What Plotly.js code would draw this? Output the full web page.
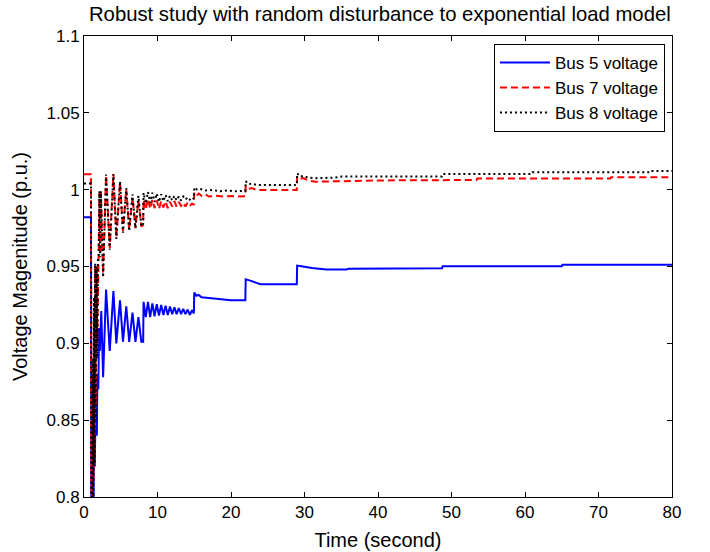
<!DOCTYPE html>
<html>
<head>
<meta charset="utf-8">
<script src="https://cdn.plot.ly/plotly-3.0.1.min.js"></script>
<style>html,body{margin:0;padding:0;background:#fff;}#chart{width:710px;height:552px;}</style>
</head>
<body>
<div id="chart"></div>
<script>
// Bus 5 voltage
var t5 = [0, 0.95, 1.0, 1.08, 1.15, 1.22, 1.3, 1.38, 1.45, 1.55, 1.75, 1.82, 1.95, 2.05, 2.15, 2.35, 2.6, 3.0, 3.5, 4.0, 4.4, 4.9, 5.3, 5.75, 6.15, 6.6, 7.0, 7.4, 7.8, 8.05,
  8.1, 8.4, 8.7, 9.0, 9.3, 9.6, 9.9, 10.2, 10.5, 10.8, 11.1, 11.4, 11.7, 12.0, 12.3, 12.6, 12.9, 13.2, 13.5, 13.8, 14.1, 14.4, 14.7, 14.95,
  15.0, 15.3, 15.6, 16.0, 17.0, 18.0, 20.0, 21.95, 22.0, 22.5, 23.2, 24.0, 28.95, 29.0, 29.8, 31.0, 33.0, 35.7, 36.0, 48.7, 48.8, 65.0, 65.1, 80];
var v5 = [0.982, 0.982, 0.78, 0.86, 0.79, 0.88, 0.80, 0.87, 0.82, 0.845, 0.84, 0.88, 0.87, 0.91, 0.895, 0.921, 0.878, 0.935, 0.895, 0.934, 0.900, 0.928, 0.901, 0.924, 0.901, 0.920, 0.901, 0.917, 0.901, 0.901,
  0.927, 0.917, 0.927, 0.917, 0.926, 0.9175, 0.9255, 0.918, 0.925, 0.9185, 0.9245, 0.9185, 0.924, 0.919, 0.9235, 0.919, 0.923, 0.919, 0.9225, 0.919, 0.922, 0.9185, 0.9215, 0.9195,
  0.933, 0.931, 0.9315, 0.930, 0.9295, 0.929, 0.928, 0.928, 0.9417, 0.941, 0.940, 0.9385, 0.9385, 0.9506, 0.950, 0.949, 0.948, 0.948, 0.9485, 0.9489, 0.9502, 0.9502, 0.9512, 0.9512];

// Bus 7 voltage
var t7 = [0, 0.95, 1.0, 1.05, 1.12, 1.2, 1.28, 1.36, 1.44, 1.52, 1.6, 1.7, 1.8, 1.9, 2.0, 2.1, 2.2, 2.3, 2.6, 3.0, 3.5, 4.0, 4.4, 4.9, 5.3, 5.75, 6.15, 6.6, 7.0, 7.4, 7.8, 8.05,
  8.1, 8.4, 8.7, 9.0, 9.3, 9.6, 9.9, 10.2, 10.5, 10.8, 11.1, 11.4, 11.7, 12.0, 12.3, 12.6, 12.9, 13.2, 13.5, 13.8, 14.1, 14.4, 14.7, 14.95,
  15.0, 15.3, 15.6, 16.0, 16.5, 17.0, 18.0, 19.0, 20.0, 21.0, 21.95, 22.0, 22.4, 22.8, 23.5, 28.95, 29.0, 29.4, 29.8, 30.5, 31.5, 35.0, 40.0, 53.4, 53.5, 71.6, 71.7, 80];
var v7 = [1.01, 1.01, 0.78, 0.84, 0.80, 0.88, 0.81, 0.92, 0.83, 0.95, 0.86, 0.95, 0.90, 0.955, 0.96, 0.998, 0.958, 0.998, 0.945, 1.0095, 0.962, 1.010, 0.969, 1.0045, 0.973, 1.000, 0.974, 0.995, 0.975, 0.993, 0.976, 0.977,
  0.9935, 0.987, 0.994, 0.9875, 0.9935, 0.988, 0.993, 0.9875, 0.9925, 0.9885, 0.9925, 0.988, 0.992, 0.989, 0.9925, 0.989, 0.992, 0.9895, 0.9915, 0.989, 0.9915, 0.9895, 0.991, 0.990,
  0.998, 0.996, 0.9975, 0.996, 0.997, 0.9955, 0.996, 0.9955, 0.9958, 0.9955, 0.9958, 1.0025, 1.0005, 1.001, 0.9998, 0.9998, 1.0085, 1.007, 1.0075, 1.006, 1.0052, 1.0055, 1.006, 1.0063, 1.0072, 1.0072, 1.008, 1.008];

// Bus 8 voltage
var t8 = [0, 0.95, 1.0, 1.05, 1.12, 1.2, 1.28, 1.36, 1.44, 1.52, 1.6, 1.7, 1.8, 1.9, 2.0, 2.1, 2.2, 2.3, 2.6, 3.0, 3.5, 4.0, 4.4, 4.9, 5.3, 5.75, 6.15, 6.6, 7.0, 7.4, 7.8, 8.05,
  8.1, 8.4, 8.7, 9.0, 9.3, 9.6, 9.9, 10.2, 10.5, 10.8, 11.1, 11.4, 11.7, 12.0, 12.3, 12.6, 12.9, 13.2, 13.5, 13.8, 14.1, 14.4, 14.7, 14.95,
  15.0, 15.4, 15.8, 16.5, 17.5, 18.5, 19.5, 20.5, 21.95, 22.0, 22.4, 22.8, 23.5, 28.95, 29.0, 29.4, 29.8, 30.5, 31.5, 34.0, 35.0, 48.7, 48.8, 60.9, 61.0, 77.0, 77.1, 80];
var v8 = [1.004, 1.004, 0.78, 0.85, 0.79, 0.89, 0.80, 0.93, 0.82, 0.952, 0.85, 0.95, 0.89, 0.956, 0.957, 0.999, 0.956, 0.999, 0.943, 1.0098, 0.961, 1.0102, 0.968, 1.0055, 0.972, 1.001, 0.973, 0.997, 0.975, 0.996, 0.976, 0.978,
  0.998, 0.991, 0.9985, 0.9915, 0.998, 0.992, 0.9975, 0.992, 0.997, 0.9925, 0.9965, 0.9925, 0.996, 0.993, 0.996, 0.993, 0.9955, 0.993, 0.9955, 0.9935, 0.995, 0.9935, 0.995, 0.994,
  1.0015, 1.0, 1.0005, 0.9995, 0.9998, 0.999, 0.9995, 0.999, 0.9992, 1.0055, 1.0035, 1.004, 1.003, 1.003, 1.0107, 1.0085, 1.009, 1.0078, 1.0075, 1.0078, 1.0085, 1.0085, 1.0102, 1.0102, 1.0113, 1.0113, 1.0122, 1.0122];

var names = ['Bus 5 voltage', 'Bus 7 voltage', 'Bus 8 voltage'];
var xTicks = [0, 10, 20, 30, 40, 50, 60, 70, 80];
var yTicks = [0.8, 0.85, 0.9, 0.95, 1, 1.05, 1.1];
var yTickText = ['0.8', '0.85', '0.9', '0.95', '1', '1.05', '1.1'];

var font = 'Liberation Sans, Arial, sans-serif';
var data = [
  {x: t5, y: v5, name: names[0], type: 'scatter', mode: 'lines', line: {color: '#0000ff', width: 2}},
  {x: t7, y: v7, name: names[1], type: 'scatter', mode: 'lines', line: {color: '#ff0000', width: 2, dash: '7px,4px'}},
  {x: t8, y: v8, name: names[2], type: 'scatter', mode: 'lines', line: {color: '#000000', width: 2, dash: '2px,3px'}}
];
var axisCommon = {
  showline: true, linecolor: '#000', linewidth: 1, mirror: 'ticks',
  ticks: 'inside', ticklen: 5, tickcolor: '#000', tickwidth: 1,
  showgrid: false, zeroline: false, automargin: false,
  tickfont: {family: font, size: 17, color: '#000'}
};
var layout = {
  width: 710, height: 552,
  margin: {l: 84, r: 38, t: 36, b: 55},
  paper_bgcolor: '#fff', plot_bgcolor: '#fff',
  showlegend: true,
  title: {text: 'Robust study with random disturbance to exponential load model',
          font: {family: font, size: 20.3, color: '#000'}, x: 0.535, xanchor: 'center', y: 0.974, yanchor: 'middle'},
  xaxis: Object.assign({}, axisCommon, {
    range: [0, 80], tickvals: xTicks, ticktext: xTicks.map(String),
    title: {text: 'Time (second)', font: {family: font, size: 20, color: '#000'}, standoff: 11}
  }),
  yaxis: Object.assign({}, axisCommon, {
    range: [0.8, 1.1], tickvals: yTicks, ticktext: yTickText,
    title: {text: 'Voltage Magenitude (p.u.)', font: {family: font, size: 20, color: '#000'}, standoff: 13}
  }),
  legend: {
    x: 0.988, xanchor: 'right', y: 0.983, yanchor: 'top',
    bgcolor: '#fff', bordercolor: '#000', borderwidth: 1,
    font: {family: font, size: 17, color: '#000'},
    itemwidth: 50,
    tracegroupgap: 0
  }
};
Plotly.newPlot('chart', data, layout, {displayModeBar: false, staticPlot: true});
</script>
</body>
</html>
